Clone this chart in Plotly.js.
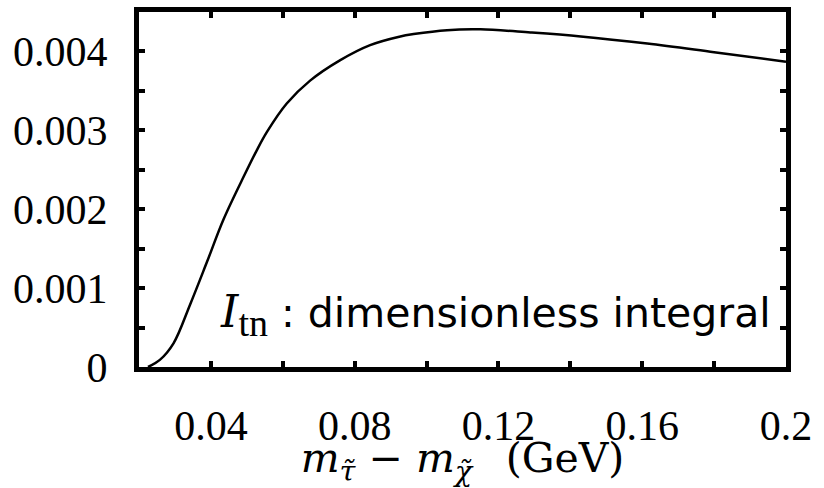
<!DOCTYPE html>
<html>
<head>
<meta charset="utf-8">
<script src="https://cdn.plot.ly/plotly-3.0.1.min.js"></script>
<style>html,body{margin:0;padding:0;background:#fff;}#chart{width:824px;height:488px;}</style>
</head>
<body>
<div id="chart"></div>
<script>
// Curve: dimensionless integral I_tn vs mass difference (GeV)
var massDiff = [0.0225, 0.0258, 0.0296, 0.0342, 0.0389, 0.0435, 0.0493, 0.0528, 0.0556, 0.0611, 0.0676, 0.0760, 0.0843, 0.0927, 0.0964, 0.1057, 0.1150, 0.1289, 0.1429, 0.1614, 0.1800, 0.2000];
var integralValue = [0, 0.00009, 0.00030, 0.00079, 0.00133, 0.00187, 0.00243, 0.00275, 0.00298, 0.00334, 0.00363, 0.00389, 0.00408, 0.00419, 0.00422, 0.00427, 0.00428, 0.00424, 0.00419, 0.00410, 0.00399, 0.00387];

var xTickVals = [0.02, 0.04, 0.06, 0.08, 0.10, 0.12, 0.14, 0.16, 0.18, 0.20];
var xTickText = ["", "0.04", "", "0.08", "", "0.12", "", "0.16", "", "0.2"];
var yTickVals = [0, 0.0005, 0.001, 0.0015, 0.002, 0.0025, 0.003, 0.0035, 0.004, 0.0045];
var yTickText = ["0", "", "0.001", "", "0.002", "", "0.003", "", "0.004", ""];

var serif = "Liberation Serif, Times New Roman, serif";

var trace = {
  x: massDiff, y: integralValue, type: "scatter", mode: "lines",
  line: {color: "#000", width: 2.5, shape: "spline", smoothing: 1},
  hoverinfo: "skip"
};

var axisCommon = {
  showline: true, linecolor: "#000", linewidth: 5, mirror: "allticks",
  ticks: "inside", ticklen: 6, tickwidth: 4, tickcolor: "#000",
  showgrid: false, zeroline: false,
  tickfont: {family: serif, size: 42, color: "#000"},
  tickmode: "array", ticklabelstandoff: 18
};

var titleText = "<i>m</i><sub><i>τ̃</i></sub> − <i>m</i><sub><i>χ̃</i></sub> \u2002(GeV)";

var layout = {
  width: 824, height: 488,
  margin: {l: 139, r: 38, t: 12, b: 121},
  paper_bgcolor: "#fff", plot_bgcolor: "#fff",
  showlegend: false,
  xaxis: Object.assign({}, axisCommon, {
    range: [0.02, 0.2], tickvals: xTickVals, ticktext: xTickText,
    title: {text: titleText, font: {family: "DejaVu Serif, serif", size: 41, color: "#000"}, standoff: 18}
  }),
  yaxis: Object.assign({}, axisCommon, {
    range: [0, 0.0045], tickvals: yTickVals, ticktext: yTickText
  }),
  annotations: [{
    xref: "paper", yref: "paper", x: 0.98, y: 0.147, xanchor: "right", yanchor: "middle",
    showarrow: false,
    text: "<span style='font-family:DejaVu Serif;font-style:italic;font-size:44px'>I</span><sub><span style='font-family:Liberation Serif;font-size:38px'>tn</span></sub><span> : dimensionless integral</span>",
    font: {family: "DejaVu Sans, sans-serif", size: 41, color: "#000"}
  }]
};

Plotly.newPlot("chart", [trace], layout, {displayModeBar: false, staticPlot: true});
</script>
</body>
</html>
